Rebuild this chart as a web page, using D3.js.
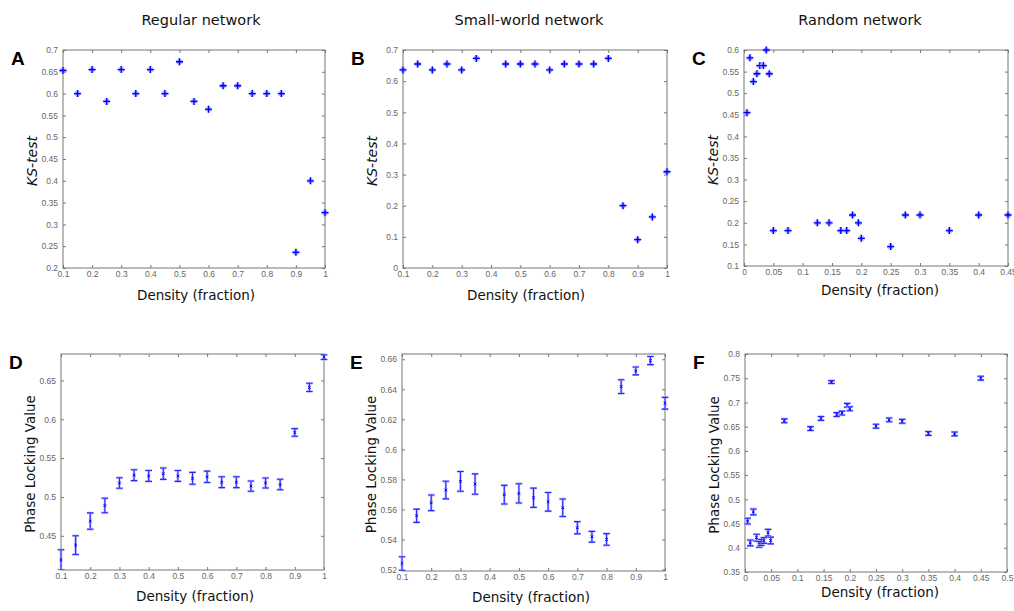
<!DOCTYPE html>
<html>
<head>
<meta charset="utf-8">
<script src="https://cdn.jsdelivr.net/npm/d3@7"></script>
<style>
  body { margin: 0; background: #fff; }
  svg { display: block; }
</style>
</head>
<body>
<div id="chart"></div>
<script>
// ---- data ----
const densityRegular = [0.1, 0.15, 0.2, 0.25, 0.3, 0.35, 0.4, 0.45, 0.5, 0.55, 0.6, 0.65, 0.7, 0.75, 0.8, 0.85, 0.9, 0.95, 1];
const ksRegular = [0.653, 0.6, 0.655, 0.582, 0.655, 0.6, 0.655, 0.6, 0.673, 0.582, 0.564, 0.618, 0.618, 0.6, 0.6, 0.6, 0.236, 0.4, 0.327];
const plvRegular = [0.419, 0.438, 0.469, 0.489, 0.518, 0.528, 0.527, 0.530, 0.527, 0.524, 0.526, 0.519, 0.519, 0.514, 0.518, 0.516, 0.583, 0.641, 0.680];
const plvRegularErr = [0.013, 0.012, 0.0105, 0.0094, 0.0068, 0.007, 0.007, 0.0073, 0.007, 0.0077, 0.0073, 0.007, 0.007, 0.0066, 0.0064, 0.0068, 0.0049, 0.0053, 0.003];

const densitySmallWorld = [0.1, 0.15, 0.2, 0.25, 0.3, 0.35, 0.45, 0.5, 0.55, 0.6, 0.65, 0.7, 0.75, 0.8, 0.85, 0.9, 0.95, 1];
const ksSmallWorld = [0.636, 0.655, 0.636, 0.655, 0.636, 0.673, 0.655, 0.655, 0.655, 0.636, 0.655, 0.655, 0.655, 0.673, 0.2, 0.091, 0.164, 0.309];
const plvSmallWorld = [0.524, 0.5558, 0.5644, 0.5729, 0.5787, 0.5769, 0.5698, 0.5707, 0.5678, 0.5651, 0.5611, 0.5478, 0.5418, 0.540, 0.6418, 0.6522, 0.6591, 0.6307];
const plvSmallWorldErr = [0.0045, 0.0044, 0.0052, 0.0059, 0.0066, 0.0068, 0.0062, 0.0064, 0.0064, 0.0062, 0.0058, 0.0041, 0.0036, 0.0039, 0.0046, 0.0026, 0.0027, 0.0039];

const densityRandomKs = [0.005, 0.01, 0.016, 0.022, 0.027, 0.033, 0.038, 0.043, 0.05, 0.075, 0.125, 0.145, 0.165, 0.175, 0.185, 0.195, 0.2, 0.25, 0.275, 0.3, 0.35, 0.4, 0.45];
const ksRandom = [0.455, 0.582, 0.527, 0.545, 0.564, 0.564, 0.6, 0.545, 0.182, 0.182, 0.2, 0.2, 0.182, 0.182, 0.218, 0.2, 0.164, 0.145, 0.218, 0.218, 0.182, 0.218, 0.218];

const densityRandomPlv = [0.005, 0.01, 0.016, 0.022, 0.027, 0.031, 0.036, 0.044, 0.049, 0.075, 0.125, 0.145, 0.165, 0.175, 0.185, 0.195, 0.2, 0.25, 0.275, 0.3, 0.35, 0.4, 0.45];
const plvRandom = [0.455, 0.41, 0.474, 0.421, 0.407, 0.411, 0.415, 0.431, 0.415, 0.662, 0.646, 0.667, 0.742, 0.675, 0.678, 0.694, 0.687, 0.651, 0.664, 0.661, 0.636, 0.635, 0.75];
const plvRandomErr = [0.006, 0.006, 0.006, 0.007, 0.006, 0.006, 0.006, 0.007, 0.007, 0.004, 0.004, 0.004, 0.003, 0.004, 0.004, 0.004, 0.004, 0.004, 0.004, 0.004, 0.004, 0.004, 0.004];

// tick labels
const ticksDensity = [0.1, 0.2, 0.3, 0.4, 0.5, 0.6, 0.7, 0.8, 0.9, 1];
const ticksDensityRandomKs = [0, 0.05, 0.1, 0.15, 0.2, 0.25, 0.3, 0.35, 0.4, 0.45];
const ticksDensityRandomPlv = [0, 0.05, 0.1, 0.15, 0.2, 0.25, 0.3, 0.35, 0.4, 0.45, 0.5];
const ticksKsRegular = [0.2, 0.25, 0.3, 0.35, 0.4, 0.45, 0.5, 0.55, 0.6, 0.65, 0.7];
const ticksKsSmallWorld = [0, 0.1, 0.2, 0.3, 0.4, 0.5, 0.6, 0.7];
const ticksKsRandom = [0.1, 0.15, 0.2, 0.25, 0.3, 0.35, 0.4, 0.45, 0.5, 0.55, 0.6];
const ticksPlvRegular = [0.45, 0.5, 0.55, 0.6, 0.65];
const ticksPlvSmallWorld = [0.52, 0.54, 0.56, 0.58, 0.6, 0.62, 0.64, 0.66];
const ticksPlvRandom = [0.35, 0.4, 0.45, 0.5, 0.55, 0.6, 0.65, 0.7, 0.75, 0.8];

const columnTitles = ['Regular network', 'Small-world network', 'Random network'];

// ---- layout ----
const width = 1014;
const height = 611;
const BLUE = '#0000ff';
const ERR_BLUE = '#2a2aff';
const HALO = '#b8b8ff';

const panels = [
  { letter: 'A', box: [63, 325, 50, 268], xDomain: [0.1, 1], yDomain: [0.2, 0.7], xTicks: ticksDensity, yTicks: ticksKsRegular,
    x: densityRegular, y: ksRegular, ylabel: 'KS-test', italic: true, xlabelX: 196, xlabelY: 300 },
  { letter: 'B', box: [403, 667, 50, 268], xDomain: [0.1, 1], yDomain: [0, 0.7], xTicks: ticksDensity, yTicks: ticksKsSmallWorld,
    x: densitySmallWorld, y: ksSmallWorld, ylabel: 'KS-test', italic: true, xlabelX: 526, xlabelY: 300 },
  { letter: 'C', box: [744, 1008, 50, 266], xDomain: [0, 0.45], yDomain: [0.1, 0.6], xTicks: ticksDensityRandomKs, yTicks: ticksKsRandom,
    x: densityRandomKs, y: ksRandom, ylabel: 'KS-test', italic: true, xlabelX: 880, xlabelY: 295 },
  { letter: 'D', box: [61, 324, 354, 570], xDomain: [0.1, 1], yDomain: [0.406, 0.684], xTicks: ticksDensity, yTicks: ticksPlvRegular,
    x: densityRegular, y: plvRegular, err: plvRegularErr, ylabel: 'Phase Locking Value', xlabelX: 195, xlabelY: 601 },
  { letter: 'E', box: [402, 665, 354, 571], xDomain: [0.1, 1], yDomain: [0.519, 0.6635], xTicks: ticksDensity, yTicks: ticksPlvSmallWorld,
    x: densitySmallWorld, y: plvSmallWorld, err: plvSmallWorldErr, ylabel: 'Phase Locking Value', xlabelX: 531, xlabelY: 602 },
  { letter: 'F', box: [745, 1007, 354, 572], xDomain: [0, 0.5], yDomain: [0.35, 0.8], xTicks: ticksDensityRandomPlv, yTicks: ticksPlvRandom,
    x: densityRandomPlv, y: plvRandom, err: plvRandomErr, ylabel: 'Phase Locking Value', xlabelX: 880, xlabelY: 597 }
];

const svg = d3.select('#chart')
  .append('svg')
  .attr('width', width)
  .attr('height', height);

const fmt = d => String(+d.toFixed(3));

// column titles
const titleX = [201, 529, 860];
svg.selectAll('.col-title')
  .data(columnTitles)
  .enter()
  .append('text')
  .attr('class', 'col-title')
  .attr('x', (d, i) => titleX[i])
  .attr('y', 25)
  .attr('text-anchor', 'middle')
  .style('font-family', 'DejaVu Sans, Verdana, sans-serif')
  .style('font-size', '14.5px')
  .style('fill', '#111')
  .text(d => d);

// matlab '*' marker: strong plus, faint diagonals
const plusPath = 'M-3.5,0H3.5M0,-3.5V3.5';
const diagPath = 'M-2,-2L2,2M-2,2L2,-2';

panels.forEach(p => {
  const [x0, x1, y0, y1] = p.box;
  const xScale = d3.scaleLinear().domain(p.xDomain).range([x0, x1]);
  const yScale = d3.scaleLinear().domain(p.yDomain).range([y1, y0]);
  const g = svg.append('g');

  // axes with inward ticks on all four sides (MATLAB box)
  const styleAxis = sel => {
    sel.select('.domain').remove();
    sel.selectAll('.tick line').attr('stroke', '#555').attr('stroke-width', 0.8);
    sel.selectAll('.tick text')
      .style('font-family', 'Liberation Sans, Arial, sans-serif')
      .style('font-size', '8.5px')
      .style('fill', '#666');
  };
  g.append('g').attr('transform', `translate(0,${y1})`)
    .call(d3.axisBottom(xScale).tickValues(p.xTicks).tickFormat(fmt).tickSize(-3).tickSizeOuter(0).tickPadding(3))
    .call(styleAxis);
  g.append('g').attr('transform', `translate(0,${y0})`)
    .call(d3.axisTop(xScale).tickValues(p.xTicks).tickFormat('').tickSize(-3).tickSizeOuter(0))
    .call(styleAxis);
  g.append('g').attr('transform', `translate(${x0},0)`)
    .call(d3.axisLeft(yScale).tickValues(p.yTicks).tickFormat(fmt).tickSize(-3).tickSizeOuter(0).tickPadding(5))
    .call(styleAxis);
  g.append('g').attr('transform', `translate(${x1},0)`)
    .call(d3.axisRight(yScale).tickValues(p.yTicks).tickFormat('').tickSize(-3).tickSizeOuter(0))
    .call(styleAxis);

  g.append('rect')
    .attr('x', x0).attr('y', y0)
    .attr('width', x1 - x0).attr('height', y1 - y0)
    .attr('fill', 'none')
    .attr('stroke', '#777')
    .attr('stroke-width', 1);

  const pts = p.x.map((d, i) => ({ x: d, y: p.y[i], e: p.err ? p.err[i] : 0 }));

  if (!p.err) {
    const m = g.selectAll('.mark').data(pts).enter().append('g')
      .attr('transform', d => `translate(${xScale(d.x)},${yScale(d.y)})`);
    m.append('path').attr('d', plusPath).attr('stroke', HALO).attr('stroke-width', 2.8).attr('fill', 'none');
    m.append('path').attr('d', diagPath).attr('stroke', '#7b7bff').attr('stroke-width', 1).attr('fill', 'none');
    m.append('path').attr('d', plusPath).attr('stroke', BLUE).attr('stroke-width', 1.3).attr('fill', 'none');
  } else {
    // error bars
    const clipId = 'clip-' + p.letter;
    g.append('clipPath').attr('id', clipId).append('rect')
      .attr('x', x0 - 6).attr('y', y0).attr('width', x1 - x0 + 12).attr('height', y1 - y0);
    const eb = g.append('g').attr('clip-path', `url(#${clipId})`)
      .selectAll('.err').data(pts).enter().append('g');
    const barPath = d => {
      const cx = xScale(d.x);
      const top = yScale(d.y + d.e);
      const bot = yScale(d.y - d.e);
      return `M${cx},${top}V${bot}M${cx - 3.3},${top}H${cx + 3.3}M${cx - 3.3},${bot}H${cx + 3.3}`;
    };
    eb.append('path').attr('d', barPath).attr('stroke', HALO).attr('stroke-width', 2.4).attr('fill', 'none');
    eb.append('path').attr('d', barPath).attr('stroke', ERR_BLUE).attr('stroke-width', 1.1).attr('fill', 'none');
    eb.append('path')
      .attr('d', d => {
        const cx = xScale(d.x);
        const cy = yScale(d.y);
        return `M${cx - 1.3},${cy - 1.3}L${cx + 1.3},${cy + 1.3}M${cx - 1.3},${cy + 1.3}L${cx + 1.3},${cy - 1.3}`;
      })
      .attr('stroke', BLUE).attr('stroke-width', 1).attr('fill', 'none');
  }

  // panel letter
  g.append('text')
    .attr('x', x0 - 52)
    .attr('y', y0 + 15)
    .style('font-family', 'Liberation Sans, Arial, sans-serif')
    .style('font-weight', 'bold')
    .style('font-size', '19px')
    .style('fill', '#000')
    .text(p.letter);

  // axis labels
  g.append('text')
    .attr('x', p.xlabelX)
    .attr('y', p.xlabelY)
    .attr('text-anchor', 'middle')
    .style('font-family', 'DejaVu Sans, Verdana, sans-serif')
    .style('font-size', '13.5px')
    .style('fill', '#111')
    .text('Density (fraction)');

  const ly = (y0 + y1) / 2 + 2;
  g.append('text')
    .attr('transform', `translate(${x0 - 26},${ly}) rotate(-90)`)
    .attr('text-anchor', 'middle')
    .style('font-family', 'DejaVu Sans, Verdana, sans-serif')
    .style('font-size', p.italic ? '14px' : '13.5px')
    .style('font-style', p.italic ? 'italic' : 'normal')
    .style('fill', '#111')
    .text(p.ylabel);
});
</script>
</body>
</html>
